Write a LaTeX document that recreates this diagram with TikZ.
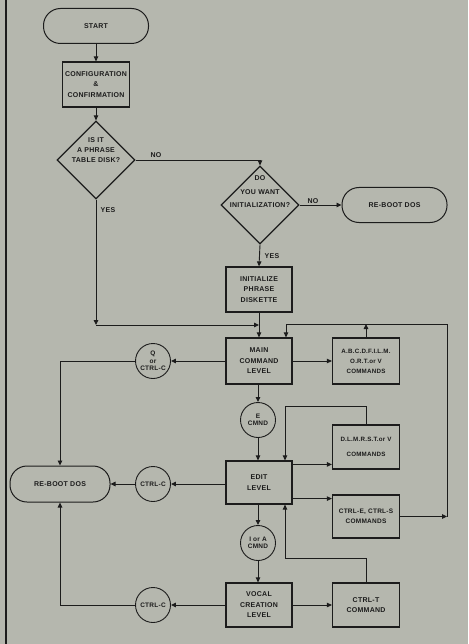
\documentclass[tikz,border=0pt]{standalone}
\usepackage{fontspec}
\setmainfont{Liberation Sans}
\newfontfamily\fcfont[LetterSpace=4]{Liberation Sans}
\usetikzlibrary{arrows.meta,shapes.geometric}
\definecolor{bg}{RGB}{181,183,174}
\definecolor{ink}{RGB}{28,28,28}
\begin{document}
\begin{tikzpicture}[x=1pt,y=-1pt,
  every node/.style={text=ink},
  txt/.style={font=\fcfont\bfseries\fontsize{7}{10.5}\selectfont, align=center, inner sep=0pt},
  small/.style={font=\fcfont\bfseries\fontsize{6.2}{10}\selectfont, align=center, inner sep=0pt},
  box/.style={txt, draw=ink, line width=1.2pt, minimum width=66pt, minimum height=45pt},
  term/.style={txt, draw=ink, line width=1pt, rounded corners=17pt, minimum width=105pt, minimum height=35pt},
  dia/.style={draw=ink, line width=1.2pt, diamond, aspect=1, minimum width=78pt, minimum height=78pt, inner sep=0pt},
  circ/.style={draw=ink, line width=0.9pt, circle, minimum size=35pt, inner sep=0pt, align=center, font=\fcfont\bfseries\fontsize{6.5}{7.5}\selectfont},
  conn/.style={draw=ink, line width=0.9pt},
  arr/.style={conn, -{Triangle[length=5pt,width=4.5pt]}}
]
\fill[bg] (0,0) rectangle (468,644);
\useasboundingbox (0,0) rectangle (468,644);
\draw[ink, line width=2pt] (6,0) -- (6,644);

% nodes
\node[term] (start) at (96,26) {START};
\node[box, minimum width=67pt] (conf) at (96,84.5) {CONFIGURATION\\\&\\CONFIRMATION};
\node[dia] (d1) at (96,160) {};
\node[txt, font=\fcfont\bfseries\fontsize{7}{10}\selectfont] (d1t) at (96,150) {IS IT\\A PHRASE\\TABLE DISK?};
\node[dia] (d2) at (260,205) {};
\node[txt, font=\fcfont\bfseries\fontsize{7}{13.5}\selectfont] (d2t) at (260,192) {DO\\YOU WANT\\INITIALIZATION?};
\node[term] (reboot1) at (394.5,205) {RE-BOOT DOS};
\node[box] (init) at (259,289.5) {INITIALIZE\\PHRASE\\DISKETTE};
\node[box, minimum height=46pt] (main) at (259,361) {MAIN\\COMMAND\\LEVEL};
\node[box, small, minimum width=67pt, minimum height=46pt] (abc) at (366,361) {A.B.C.D.F.I.L.M.\\O.R.T.or V\\COMMANDS};
\node[circ] (q) at (153,361) {Q\\or\\CTRL-C};
\node[circ] (ecmnd) at (258,420) {E\\CMND};
\node[box, small, minimum width=67pt, minimum height=44pt, font=\fcfont\bfseries\fontsize{6.2}{15}\selectfont] (dlm) at (366,447) {D.L.M.R.S.T.or V\\COMMANDS};
\node[box, minimum height=43pt] (edit) at (259,482.5) {EDIT\\LEVEL};
\node[box, minimum width=67pt, minimum height=43pt, font=\fcfont\bfseries\fontsize{6.5}{10.5}\selectfont] (ctrle) at (366,516.5) {CTRL-E, CTRL-S\\COMMANDS};
\node[circ] (cc1) at (153,484) {CTRL-C};
\node[term, minimum width=100pt, minimum height=36pt] (reboot2) at (60,484) {RE-BOOT DOS};
\node[circ] (ia) at (258,543) {I or A\\CMND};
\node[box, minimum height=44pt] (vocal) at (259,605) {VOCAL\\CREATION\\LEVEL};
\node[box, minimum width=67pt, minimum height=44pt] (ctrlt) at (366,605) {CTRL-T\\COMMAND};
\node[circ] (cc2) at (153,605) {CTRL-C};

% labels
\node[txt] (no1) at (156,155) {NO};
\node[txt] (yes1) at (108,210) {YES};
\node[txt] (no2) at (313,201) {NO};
\node[txt] (yes2) at (272,256) {YES};

% coordinates
\coordinate (c1) at (96,325);
\coordinate (rx) at (447,324);
\coordinate (mx) at (286,324);
\coordinate (t1) at (285,406);
\coordinate (t2) at (285,558);

% connectors
\draw[arr] (start) -- (conf);
\draw[arr] (conf) -- (d1.north);
\draw[arr] (d1.east) -| (d2.north);
\draw[arr] (d2.east) -- (reboot1.west);
\draw[arr] (d2.south) -- (init.north);
\draw[arr] (d1.south) -- (c1);
\draw[arr] (c1) -- (c1 -| main.north);
\draw[arr] (init.south) -- (main.north);
\draw[arr] (main.east) -- (abc.west);
\draw[arr] (abc.north) -- (abc.north |- rx);
\draw[arr] (ctrle.east) -- (ctrle.east -| rx);
\draw[arr] (ctrle.east -| rx) -- (rx) -- (mx) -- (mx |- main.north);
\draw[arr] (main.west) -- (q.east);
\draw[arr] (q.west) -| (reboot2.north);
\draw[arr] (main.south -| ecmnd.north) -- (ecmnd.north);
\draw[arr] (ecmnd.south) -- (ecmnd.south |- edit.north);
\path (edit.north east) ++(0,4) coordinate (e1);
\path (edit.south east) ++(0,-6) coordinate (e2);
\draw[arr] (e1) -- (e1 -| dlm.west);
\draw[arr] (e2) -- (e2 -| ctrle.west);
\draw[arr] (dlm.north) |- (t1) -- (t1 |- edit.north);
\draw[arr] (edit.west |- cc1.east) -- (cc1.east);
\draw[arr] (cc1.west) -- (reboot2.east);
\draw[arr] (edit.south -| ia.north) -- (ia.north);
\draw[arr] (ia.south) -- (ia.south |- vocal.north);
\draw[arr] (vocal.east) -- (ctrlt.west);
\draw[arr] (ctrlt.north) |- (t2) -- (t2 |- edit.south);
\draw[arr] (vocal.west) -- (cc2.east);
\draw[arr] (cc2.west) -| (reboot2.south);
\end{tikzpicture}
\end{document}
